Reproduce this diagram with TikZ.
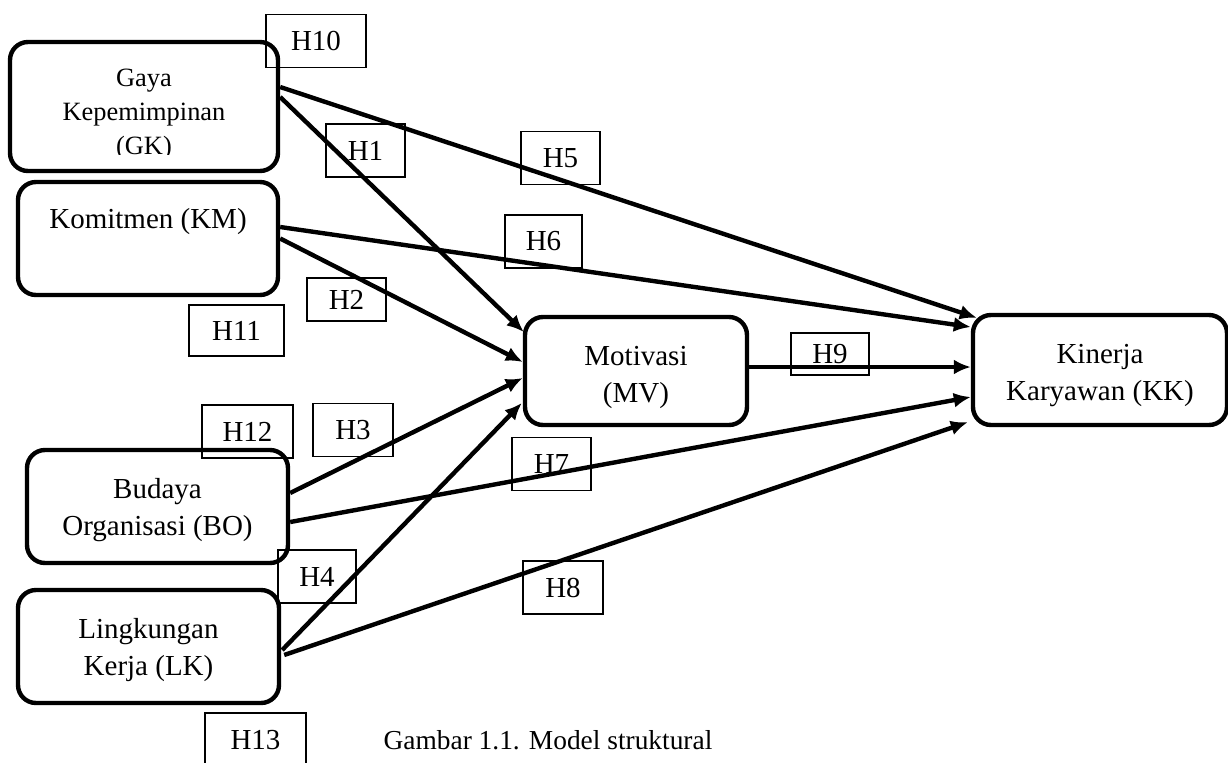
\documentclass[tikz,border=0pt]{standalone}
\usepackage{fontspec}
\setmainfont{Liberation Serif}
\usetikzlibrary{calc, positioning, arrows.meta}
\tikzset{
varbox/.style={draw, line width=2.2pt, rounded corners=9pt, inner sep=0pt},
vartext/.style={align=center, inner sep=0pt, font=\fontsize{14.5}{18.5}\selectfont},
hbox/.style={draw, line width=0.7pt, minimum width=39.5pt, minimum height=26.5pt, inner sep=0pt, font=\fontsize{14.5}{17}\selectfont},
% link/.style={line width=2.2pt},
>={Latex[length=8.5pt,width=7.5pt]},
}

\begin{document}
\begin{tikzpicture}[x=0.5pt, y=-0.5pt]
\useasboundingbox (0,0) rectangle (1228,762);

% Hypothesis labels
\node (h10) [hbox, minimum width=50pt] at (316,41) {H10};
\node (h1) [hbox] at (365.5,150.5) {H1};
\node (h2) [hbox, minimum height=21.5pt] at (346.5,299.5) {H2};
\node (h11) [hbox, minimum width=47.5pt, minimum height=25.5pt] at (236.5,330.5) {H11};
\node (h5) [hbox] at (560.5,158) {H5};
\node (h6) [hbox, minimum width=38.5pt] at (543.5,241.5) {H6};
\node (h9) [hbox, minimum width=39pt, minimum height=21pt] at (830,354) {H9};
\node (h12) [hbox, minimum width=45.5pt] at (247.5,431.5) {H12};
\node (h3) [hbox, minimum width=40pt] at (353,430) {H3};
\node (h7) [hbox] at (551.5,464) {H7};
\node (h4) [hbox, minimum width=39pt] at (317,576.5) {H4};
\node (h8) [hbox, minimum width=40pt] at (563,587.5) {H8};
\node (h13) [hbox, minimum width=50.5pt, minimum height=27pt] at (255.5,740) {H13};

% Variables
\node (gk) [varbox, minimum width=134pt, minimum height=64.5pt] at (144,106.5) {};
\node (km) [varbox, minimum width=130pt, minimum height=56.5pt] at (148,238.5) {};
\node (bo) [varbox, minimum width=130.5pt, minimum height=56.5pt] at (157.5,506.5) {};
\node (lk) [varbox, minimum width=130.5pt, minimum height=56.5pt] at (148.5,646.5) {};
\node (mv) [varbox, minimum width=111pt, minimum height=54pt] at (636,371) {};
\node (kk) [varbox, minimum width=127pt, minimum height=55pt] at (1100,370) {};

% Texts
\begin{scope}
\clip (gk.north west) rectangle ($(gk.south east)+(0,-19)$);
\node (gktext) [vartext, font=\fontsize{13.2}{17}\selectfont] at ($(gk)+(0,8.5)$) {Gaya\\ Kepemimpinan\\ (GK)};
\end{scope}
\node (kmtext) [vartext] at ($(km)+(0,-17)$) {Komitmen (KM)};
\node (botext) [vartext] at ($(bo)+(0,4)$) {Budaya\\ Organisasi (BO)};
\node (lktext) [vartext] at ($(lk)+(0,4)$) {Lingkungan\\ Kerja (LK)};
\node (mvtext) [vartext] at ($(mv)+(0,6)$) {Motivasi\\ (MV)};
\node (kktext) [vartext] at ($(kk)+(0,5.5)$) {Kinerja\\ Karyawan (KK)};

\node (caption) [font=\fontsize{13.7}{16}\selectfont] at (548,740) {Gambar 1.1. Model struktural};

% Connectors
\begin{scope}[->, line width=2.2pt]
\draw ($(gk.east)+(0,-19.5)$) -- ($(kk.north west)+(6,5)$);
\draw ($(gk.east)+(0,-9.5)$) -- ($(mv.west)+(1,-39)$);
\draw ($(km.east)+(0,-11.5)$) -- ($(kk.west)+(0,-43)$);
\draw (km.east) -- ($(mv.west)+(0,-9)$);
\draw ($(bo.east)+(0,-13.5)$) -- ($(mv.west)+(0,7)$);
\draw ($(bo.east)+(0,15.5)$) -- ($(kk.west)+(0,27)$);
\draw ($(lk.east)+(1,3.5)$) -- ($(mv.west)+(-1,32)$);
\draw ($(lk.east)+(3,8.5)$) -- ($(kk.south west)+(-3,-5)$);
\draw ($(mv.east)+(0,-4)$) -- ($(kk.west)+(0,-3)$);
\end{scope}

\end{tikzpicture}
\end{document}
